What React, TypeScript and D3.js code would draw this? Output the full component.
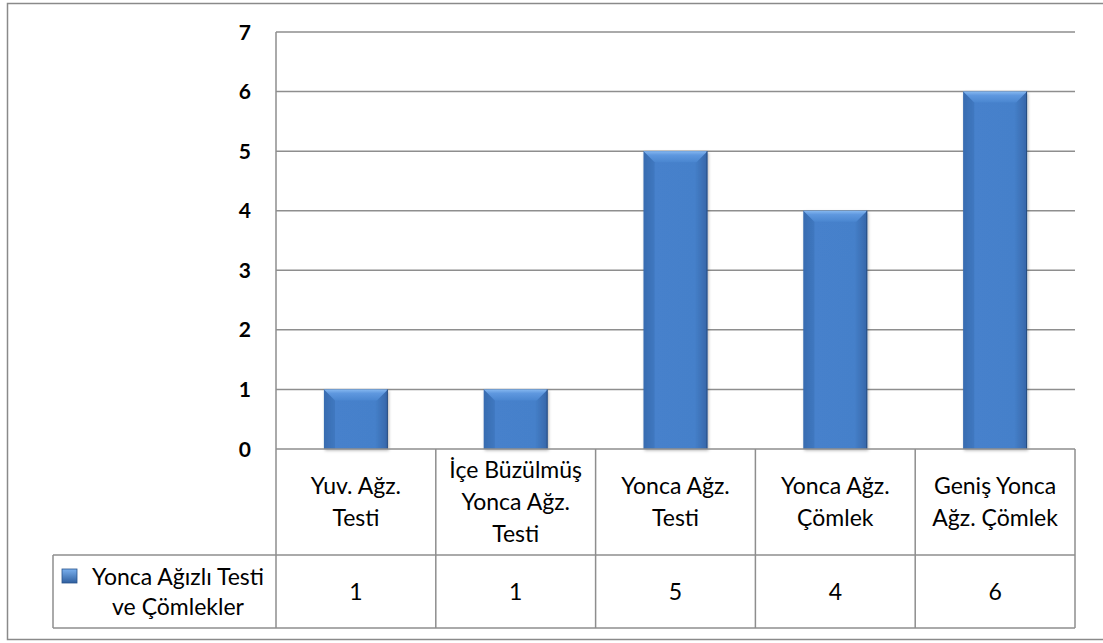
import React from "react";
import * as d3 from "d3";

const categories: string[][] = [
  ["Yuv. Ağz.", "Testi"],
  ["İçe Büzülmüş", "Yonca Ağz.", "Testi"],
  ["Yonca Ağz.", "Testi"],
  ["Yonca Ağz.", "Çömlek"],
  ["Geniş Yonca", "Ağz. Çömlek"],
];
const values: number[] = [1, 1, 5, 4, 6];
const seriesName: string[] = ["Yonca Ağızlı Testi", "ve Çömlekler"];
const yTicks: number[] = [0, 1, 2, 3, 4, 5, 6, 7];

const W = 1103;
const H = 643;
const left = 276;
const right = 1075;
const top = 32;
const zeroY = 449;
const headerBottom = 555;
const tableBottom = 628;
const legendLeft = 53;
const FONT = "Lato, 'Open Sans', 'DejaVu Sans', sans-serif";
const GRID = "#8e8e8e";

export default function App() {
  const x = d3
    .scaleBand<number>()
    .domain(d3.range(categories.length))
    .range([left, right])
    .paddingInner(0)
    .paddingOuter(0);
  const y = d3.scaleLinear().domain([0, 7]).range([zeroY, top]);
  const bw = x.bandwidth();
  const barW = bw * 0.4;
  const bev = 11;
  const lh = 32;

  return (
    <svg
      width={W}
      height={H}
      style={{ position: "absolute", left: 0, top: 0, background: "#fff" }}
      fontFamily={FONT}
    >
      <defs>
        <linearGradient id="barBody" x1="0" y1="0" x2="1" y2="0">
          <stop offset="0" stopColor="#3b70b6" />
          <stop offset="0.18" stopColor="#4681cc" />
          <stop offset="0.8" stopColor="#4580ca" />
          <stop offset="1" stopColor="#3666a8" />
        </linearGradient>
        <linearGradient id="barTop" x1="0" y1="0" x2="0" y2="1">
          <stop offset="0" stopColor="#86b8f0" />
          <stop offset="0.35" stopColor="#5f98df" />
          <stop offset="1" stopColor="#4a86d0" />
        </linearGradient>
        <linearGradient id="keyGrad" x1="0" y1="0" x2="0" y2="1">
          <stop offset="0" stopColor="#7ab0ee" />
          <stop offset="1" stopColor="#2f5f9f" />
        </linearGradient>
        <filter id="shadow" x="-20%" y="-5%" width="140%" height="115%">
          <feDropShadow dx="1" dy="1.5" stdDeviation="1.5" floodColor="#000" floodOpacity="0.3" />
        </filter>
      </defs>

      {/* outer border */}
      <rect x={7.5} y={3.5} width={1100} height={636} fill="none" stroke="#8a8a8a" strokeWidth={1.5} />

      {/* gridlines */}
      {yTicks.slice(1).map((t) => (
        <line key={t} x1={left} x2={right} y1={y(t)} y2={y(t)} stroke={GRID} strokeWidth={1.5} />
      ))}

      {/* y axis */}
      <line x1={left} x2={left} y1={top} y2={zeroY} stroke={GRID} strokeWidth={1.5} />

      {/* y tick labels */}
      {yTicks.map((t) => (
        <text
          key={t}
          x={251}
          y={y(t)}
          dy="0.36em"
          textAnchor="end"
          fontWeight="bold"
          fontSize={21}
          fill="#000"
        >
          {t}
        </text>
      ))}

      {/* bars */}
      {values.map((v, i) => {
        const bx = (x(i) as number) + (bw - barW) / 2;
        const by = y(v);
        const bh = zeroY - by;
        const b = Math.min(bev, bh / 2);
        return (
          <g key={i}>
            <rect x={bx} y={by} width={barW} height={bh} fill="url(#barBody)" filter="url(#shadow)" />
            <polygon
              points={`${bx},${by} ${bx + barW},${by} ${bx + barW - b},${by + b} ${bx + b},${by + b}`}
              fill="url(#barTop)"
            />
            <polygon
              points={`${bx},${by} ${bx + b},${by + b} ${bx + b},${by + bh} ${bx},${by + bh}`}
              fill="#2f5f9f"
              opacity={0.25}
            />
            <line x1={bx + barW - 0.5} x2={bx + barW - 0.5} y1={by} y2={by + bh} stroke="#1f3f6e" strokeWidth={1} opacity={0.7} />
          </g>
        );
      })}

      {/* table lines */}
      <line x1={left} x2={right} y1={zeroY} y2={zeroY} stroke={GRID} strokeWidth={1.5} />
      <line x1={legendLeft} x2={right} y1={headerBottom} y2={headerBottom} stroke={GRID} strokeWidth={1.5} />
      <line x1={legendLeft} x2={right} y1={tableBottom} y2={tableBottom} stroke={GRID} strokeWidth={1.5} />
      <line x1={legendLeft} x2={legendLeft} y1={headerBottom} y2={tableBottom} stroke={GRID} strokeWidth={1.5} />
      {d3.range(categories.length + 1).map((k) => {
        const xx = k < categories.length ? (x(k) as number) : right;
        return <line key={k} x1={xx} x2={xx} y1={zeroY} y2={tableBottom} stroke={GRID} strokeWidth={1.5} />;
      })}

      {/* category labels */}
      {categories.map((lines, i) => {
        const cx = (x(i) as number) + bw / 2;
        const midBase = 510;
        return (
          <text key={i} textAnchor="middle" fontSize={23} fill="#000">
            {lines.map((l, j) => (
              <tspan key={j} x={cx} y={midBase + (j - (lines.length - 1) / 2) * lh}>
                {l}
              </tspan>
            ))}
          </text>
        );
      })}

      {/* values row */}
      {values.map((v, i) => (
        <text
          key={i}
          x={(x(i) as number) + bw / 2}
          y={600}
          textAnchor="middle"
          fontSize={23}
          fill="#000"
        >
          {v}
        </text>
      ))}

      {/* legend key in table */}
      <rect x={62} y={569} width={15} height={14} fill="url(#keyGrad)" stroke="#2a548c" strokeWidth={0.8} />
      <text textAnchor="middle" fontSize={23} fill="#000">
        <tspan x={178} y={585}>{seriesName[0]}</tspan>
        <tspan x={178} y={615}>{seriesName[1]}</tspan>
      </text>
    </svg>
  );
}
